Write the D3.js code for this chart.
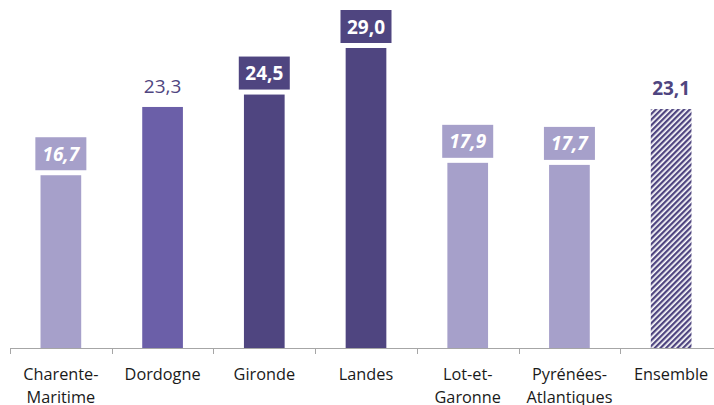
<!DOCTYPE html>
<html>
<head>
<meta charset="utf-8">
<script src="https://cdn.jsdelivr.net/npm/d3@7"></script>
<style>
  body { margin: 0; background: #fff; }
  svg { display: block; font-family: "Open Sans", sans-serif; }
</style>
</head>
<body>
<svg id="chart" width="714" height="405"></svg>
<script>
const departements = [
    ['Charente-', 'Maritime'],
    ['Dordogne'],
    ['Gironde'],
    ['Landes'],
    ['Lot-et-', 'Garonne'],
    ['Pyrénées-', 'Atlantiques'],
    ['Ensemble'],
];
const valeurs = [16.7, 23.3, 24.5, 29.0, 17.9, 17.7, 23.1];
// style of each bar: light, mid, dark, hatch
const niveaux = ['light', 'mid', 'dark', 'dark', 'light', 'light', 'hatch'];

const colors = { light: '#a6a0ca', mid: '#6b5fa8', dark: '#4f4580', hatch: '#4f4580' };

const svg = d3.select('#chart');

const defs = svg.append('defs');
const pat = defs.append('pattern')
    .attr('id', 'hatch')
    .attr('patternUnits', 'userSpaceOnUse')
    .attr('width', 4)
    .attr('height', 4)
    .attr('patternTransform', 'rotate(45)');
pat.append('rect').attr('width', 4).attr('height', 4).attr('fill', '#fff');
pat.append('rect').attr('width', 2.3).attr('height', 4).attr('fill', colors.hatch);

const x = d3.scaleBand()
    .domain(d3.range(valeurs.length))
    .range([10, 722])
    .paddingInner(0.6)
    .paddingOuter(0.3);

const y = d3.scaleLinear().domain([0, 29]).range([348, 48]);

// bars
svg.append('g')
    .selectAll('rect')
    .data(valeurs)
    .join('rect')
    .attr('x', (d, i) => x(i))
    .attr('y', d => y(d))
    .attr('width', x.bandwidth())
    .attr('height', d => y(0) - y(d))
    .attr('fill', (d, i) => niveaux[i] === 'hatch' ? 'url(#hatch)' : colors[niveaux[i]]);

// axis
const axis = svg.append('g').attr('stroke', '#a6a6a6').attr('stroke-width', 1);
axis.append('line')
    .attr('x1', 10).attr('x2', 714)
    .attr('y1', y(0) + 0.5).attr('y2', y(0) + 0.5);
axis.selectAll('line.tick')
    .data(d3.range(valeurs.length))
    .join('line')
    .attr('class', 'tick')
    .attr('x1', i => Math.round(x(i) - x.bandwidth() * 0.75) + 0.5)
    .attr('x2', i => Math.round(x(i) - x.bandwidth() * 0.75) + 0.5)
    .attr('y1', y(0))
    .attr('y2', y(0) + 6);

// category labels
const labels = svg.append('g')
    .selectAll('text')
    .data(departements)
    .join('text')
    .attr('text-anchor', 'middle')
    .attr('font-size', 16.3)
    .attr('fill', '#1a1a1a')
    .attr('transform', (d, i) => `translate(${x(i) + x.bandwidth() / 2},380)`);
labels.selectAll('tspan')
    .data(d => d)
    .join('tspan')
    .attr('x', 0)
    .attr('y', (d, j) => j * 23)
    .text(d => d);

// value labels
const fmt = v => d3.format('.1f')(v).replace('.', ',');
const boxW = 51, boxH = 33;
valeurs.forEach((v, i) => {
    const cx = x(i) + x.bandwidth() / 2;
    const lvl = niveaux[i];
    const g = svg.append('g');
    if (lvl === 'light' || lvl === 'dark') {
        g.append('rect')
            .attr('x', cx - boxW / 2)
            .attr('y', y(v) - 5 - boxH)
            .attr('width', boxW)
            .attr('height', boxH)
            .attr('fill', colors[lvl]);
        g.append('text')
            .attr('x', cx)
            .attr('y', y(v) - 5 - boxH / 2 + 7)
            .attr('text-anchor', 'middle')
            .attr('font-size', 19)
            .attr('font-weight', 'bold')
            .attr('font-style', lvl === 'light' ? 'italic' : 'normal')
            .attr('fill', '#fff')
            .text(fmt(v));
    } else {
        g.append('text')
            .attr('x', cx)
            .attr('y', y(v) - 14)
            .attr('text-anchor', 'middle')
            .attr('font-size', 19)
            .attr('font-weight', lvl === 'hatch' ? 'bold' : 'normal')
            .attr('fill', colors.dark)
            .text(fmt(v));
    }
});
</script>
</body>
</html>
